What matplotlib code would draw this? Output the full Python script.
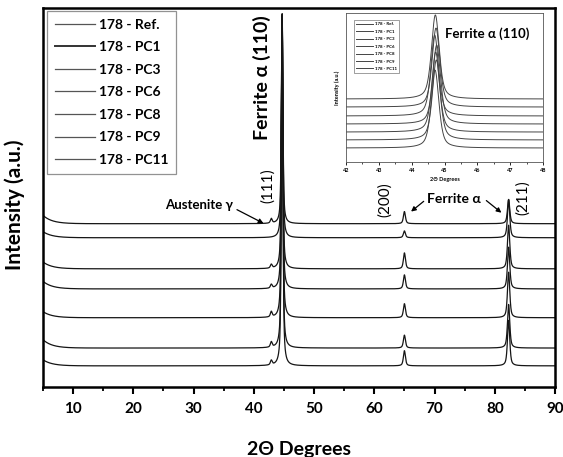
import matplotlib

matplotlib.use("Agg")
import matplotlib.pyplot as plt
import numpy as np
from matplotlib.lines import Line2D
from matplotlib.ticker import MultipleLocator

plt.rcParams["font.family"] = ["Lato", "DejaVu Sans"]

# sample names, listed top trace first
labels = ["178 - Ref.", "178 - PC1", "178 - PC3", "178 - PC6",
          "178 - PC8", "178 - PC9", "178 - PC11"]

# main pattern, arbitrary intensity units (0-1000 axis)
baseline = [431, 394, 312, 259, 183, 103, 56]
low_angle_rise = [22, 16, 18, 20, 16, 22, 16]
peak_111 = [12, 0, 10, 10, 14, 14, 12]          # austenite gamma (111)
peak_110 = [554, 581, 668, 711, 795, 865, 919]  # ferrite alpha (110)
peak_200 = [32, 18, 42, 37, 37, 34, 40]         # ferrite alpha (200)
peak_211 = [64, 100, 115, 110, 120, 115, 120]   # ferrite alpha (211)

# peak positions (2theta, deg) and widths (fwhm, deg)
pos_111, pos_110, pos_200, pos_211 = 42.9, 44.7, 65.0, 82.3
fwhm_111, fwhm_110, fwhm_200, fwhm_211 = 0.35, 0.30, 0.40, 0.45

# inset zoom on the (110) peak
inset_baseline = [423, 369, 309, 255, 201, 148, 94]
inset_peak = [564, 530, 543, 530, 537, 537, 523]
inset_pos = [44.72, 44.74, 44.70, 44.76, 44.73, 44.75, 44.71]


def pv(x, x0, fwhm, eta=0.6):
    g = np.exp(-4 * np.log(2) * ((x - x0) / fwhm) ** 2)
    lor = 1.0 / (1.0 + 4 * ((x - x0) / fwhm) ** 2)
    return eta * lor + (1 - eta) * g


fig = plt.figure(figsize=(5.63, 4.57), dpi=100)
ax = fig.add_axes([0.0764, 0.153, 0.9094, 0.8295])

tt = np.linspace(5, 90, 6000)
for i, lab in enumerate(labels):
    y = (baseline[i]
         + low_angle_rise[i] * np.exp(-(tt - 5) / 1.5)
         + peak_111[i] * pv(tt, pos_111, fwhm_111)
         + peak_110[i] * pv(tt, pos_110, fwhm_110)
         + peak_200[i] * pv(tt, pos_200, fwhm_200)
         + peak_211[i] * pv(tt, pos_211, fwhm_211))
    ax.plot(tt, y, color="#151515", lw=0.9)

ax.set_xlim(5, 90)
ax.set_ylim(0, 1000)
ax.set_yticks([])
ax.xaxis.set_major_locator(MultipleLocator(10))
ax.xaxis.set_minor_locator(MultipleLocator(5))
ax.tick_params(axis="x", which="major", direction="out", length=5, width=1.5,
               labelsize=11, pad=6)
ax.tick_params(axis="x", which="minor", direction="out", length=3, width=1.3)
for lbl in ax.get_xticklabels():
    lbl.set_fontweight("bold")
for s in ax.spines.values():
    s.set_linewidth(1.8)

ax.set_xlabel("2Θ Degrees", fontsize=14, fontweight="bold", labelpad=18)
ax.set_ylabel("Intensity (a.u.)", fontsize=15, fontweight="bold")
ax.yaxis.set_label_coords(-0.036, 0.48)

handles = [Line2D([], [], color="#555555" if i != 1 else "#333333",
                  lw=0.9 if i != 1 else 1.4) for i in range(len(labels))]
leg = ax.legend(handles, labels, loc="upper left", bbox_to_anchor=(0.008, 0.992),
                prop={"weight": "bold", "size": 10}, handlelength=2.9,
                handletextpad=0.3, labelspacing=0.76, borderpad=0.55,
                fancybox=False, borderaxespad=0.0)
leg.get_frame().set_edgecolor("#777777")
leg.get_frame().set_linewidth(0.9)

# annotations
arrow = dict(arrowstyle="-|>", lw=0.9, color="black", mutation_scale=7,
             shrinkA=0, shrinkB=0)
ax.text(42.9, 982, "Ferrite α (110)", rotation=90, ha="right", va="top",
        fontsize=14, fontweight="bold")
ax.text(43.6, 532, "(111)", rotation=90, ha="right", va="center", fontsize=11)
ax.text(36.6, 479, "Austenite γ", ha="right", va="center", fontsize=9.5,
        fontweight="bold")
ax.annotate("", xy=(41.6, 432), xytext=(37.2, 468), arrowprops=arrow)
ax.text(62.9, 495, "(200)", rotation=90, ha="right", va="center", fontsize=11)
ax.text(83.5, 500, "(211)", rotation=90, ha="left", va="center", fontsize=11)
ax.text(73.2, 497, "Ferrite α", ha="center", va="center", fontsize=10,
        fontweight="bold")
ax.annotate("", xy=(66.1, 463), xytext=(68.2, 490), arrowprops=arrow)
ax.annotate("", xy=(81.1, 460), xytext=(78.6, 492), arrowprops=arrow)

# inset
axi = fig.add_axes([0.6146, 0.6455, 0.35, 0.326])
ti = np.linspace(42, 48, 1500)
for i, lab in enumerate(labels):
    yi = inset_baseline[i] + inset_peak[i] * pv(ti, inset_pos[i], 0.28, eta=0.55)
    axi.plot(ti, yi, color="#444444", lw=0.7, label=lab)
axi.set_xlim(42, 48)
axi.set_ylim(0, 1000)
axi.set_yticks([])
axi.xaxis.set_major_locator(MultipleLocator(1))
axi.xaxis.set_minor_locator(MultipleLocator(0.5))
axi.tick_params(axis="x", which="major", length=2, width=0.6, labelsize=4, pad=2)
axi.tick_params(axis="x", which="minor", length=1.2, width=0.5)
for lbl in axi.get_xticklabels():
    lbl.set_fontweight("bold")
for s in axi.spines.values():
    s.set_linewidth(0.6)
    s.set_color("#555555")
axi.set_xlabel("2Θ Degrees", fontsize=4, fontweight="bold", labelpad=3)
axi.set_ylabel("Intensity (a.u.)", fontsize=4, fontweight="bold", labelpad=4)
ileg = axi.legend(loc="upper left", bbox_to_anchor=(0.04, 0.95),
                  prop={"weight": "bold", "size": 3.2}, handlelength=4,
                  handletextpad=0.4, labelspacing=0.75, borderpad=0.4,
                  fancybox=False, borderaxespad=0.0)
ileg.get_frame().set_edgecolor("#555555")
ileg.get_frame().set_linewidth(0.5)
axi.text(45.0, 860, "Ferrite α (110)", ha="left", va="center", fontsize=9.5,
         fontweight="bold")

fig.savefig("out.png", dpi=100)
plt.close(fig)
